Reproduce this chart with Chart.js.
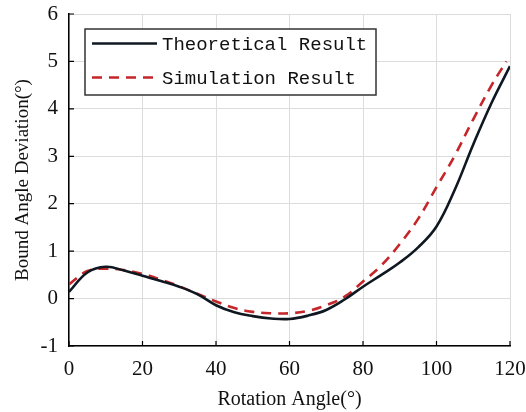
<!DOCTYPE html>
<html>
<head>
<meta charset="utf-8">
<script src="https://cdn.jsdelivr.net/npm/chart.js@4.4.0/dist/chart.umd.min.js"></script>
<style>
html,body{margin:0;padding:0;background:#fff;}
#wrap{width:526px;height:412px;position:relative;}
</style>
</head>
<body>
<div id="wrap"><canvas id="c" width="526" height="412"></canvas></div>
<script>
const xLabel = "Rotation Angle(°)";
const yLabel = "Bound Angle Deviation(°)";
const theoryName = "Theoretical Result";
const simName = "Simulation Result";

const theoryX = [0,5,10,15,20,25,30,35,40,45,50,55,60,65,70,75,80,85,90,95,100,105,110,115,120];
const theoryY = [0.14,0.55,0.67,0.59,0.48,0.37,0.25,0.09,-0.14,-0.29,-0.37,-0.42,-0.43,-0.36,-0.24,-0.02,0.25,0.5,0.76,1.08,1.52,2.3,3.25,4.13,4.9];

const simX = [0,5,10,15,20,25,30,35,40,45,50,55,60,65,70,75,80,85,90,95,100,105,110,115,119];
const simY = [0.3,0.58,0.63,0.6,0.52,0.4,0.26,0.1,-0.06,-0.2,-0.28,-0.31,-0.31,-0.26,-0.14,0.04,0.36,0.7,1.15,1.68,2.35,3.02,3.78,4.5,5.0];

const xTicks = [0,20,40,60,80,100,120];
const yTicks = [-1,0,1,2,3,4,5,6];

const toPts = (xs, ys) => xs.map((x,i)=>({x:x,y:ys[i]}));

const inwardTicks = {
  id:'inwardTicks',
  afterDraw(chart){
    const ctx = chart.ctx, a = chart.chartArea;
    const xs = chart.scales.x, ys = chart.scales.y;
    ctx.save();
    ctx.strokeStyle = '#000';
    ctx.lineWidth = 1.2;
    ctx.beginPath();
    xTicks.forEach(v=>{const p = xs.getPixelForValue(v); ctx.moveTo(p,a.bottom); ctx.lineTo(p,a.bottom-5);});
    yTicks.forEach(v=>{const p = ys.getPixelForValue(v); ctx.moveTo(a.left,p); ctx.lineTo(a.left+5,p);});
    ctx.stroke();
    ctx.restore();
  }
};

const boxLegend = {
  id:'boxLegend',
  afterDraw(chart){
    const ctx = chart.ctx;
    const x0 = 85, y0 = 29, w = 291, h = 66;
    ctx.save();
    ctx.fillStyle = '#fff';
    ctx.fillRect(x0,y0,w,h);
    ctx.strokeStyle = '#333';
    ctx.lineWidth = 1.5;
    ctx.strokeRect(x0,y0,w,h);
    ctx.font = '19px "Liberation Mono", "DejaVu Sans Mono", monospace';
    ctx.textBaseline = 'middle';
    ctx.fillStyle = '#111';
    const rows = [43.5, 77.5];
    chart.data.datasets.forEach((ds,i)=>{
      const y = rows[i];
      ctx.beginPath();
      ctx.strokeStyle = ds.borderColor;
      ctx.lineWidth = ds.borderWidth;
      ctx.setLineDash(ds.borderDash || []);
      ctx.moveTo(92,y); ctx.lineTo(157,y);
      ctx.stroke();
      ctx.setLineDash([]);
      ctx.fillStyle = '#111';
      ctx.fillText(ds.label, 162, y+1);
    });
    ctx.restore();
  }
};

new Chart(document.getElementById('c'), {
  type:'line',
  data:{
    datasets:[
      {label:theoryName, data:toPts(theoryX,theoryY), borderColor:'#0f1820', borderWidth:2.6, pointRadius:0, tension:0.4, fill:false},
      {label:simName, data:toPts(simX,simY), borderColor:'#c4262a', borderWidth:2.6, borderDash:[10,7], pointRadius:0, tension:0.4, fill:false}
    ]
  },
  options:{
    responsive:false,
    animation:false,
    layout:{padding:{left:12,top:14,right:16,bottom:0}},
    plugins:{legend:{display:false}, tooltip:{enabled:false}},
    scales:{
      x:{
        type:'linear', min:0, max:120,
        afterBuildTicks(s){ s.ticks = xTicks.map(v=>({value:v})); },
        afterFit(s){ s.height = 66; s.paddingLeft = 0; s.paddingRight = 0; },
        ticks:{font:{family:'"Liberation Serif", serif', size:21}, color:'#111', padding:11},
        grid:{color:'#dcdcdc', lineWidth:1, drawTicks:false},
        border:{display:true, color:'#000', width:1.5},
        title:{display:true, text:xLabel, font:{family:'"Liberation Serif", serif', size:20}, color:'#111', padding:{top:0,bottom:0}}
      },
      y:{
        type:'linear', min:-1, max:6,
        afterBuildTicks(s){ s.ticks = yTicks.map(v=>({value:v})); },
        afterFit(s){ s.width = 57; s.paddingTop = 0; s.paddingBottom = 0; },
        ticks:{font:{family:'"Liberation Serif", serif', size:21}, color:'#111', padding:11},
        grid:{color:'#dcdcdc', lineWidth:1, drawTicks:false},
        border:{display:true, color:'#000', width:1.5},
        title:{display:true, text:yLabel, font:{family:'"Liberation Serif", serif', size:19}, color:'#111', padding:{top:0,bottom:4}}
      }
    }
  },
  plugins:[inwardTicks, boxLegend]
});
</script>
</body>
</html>
